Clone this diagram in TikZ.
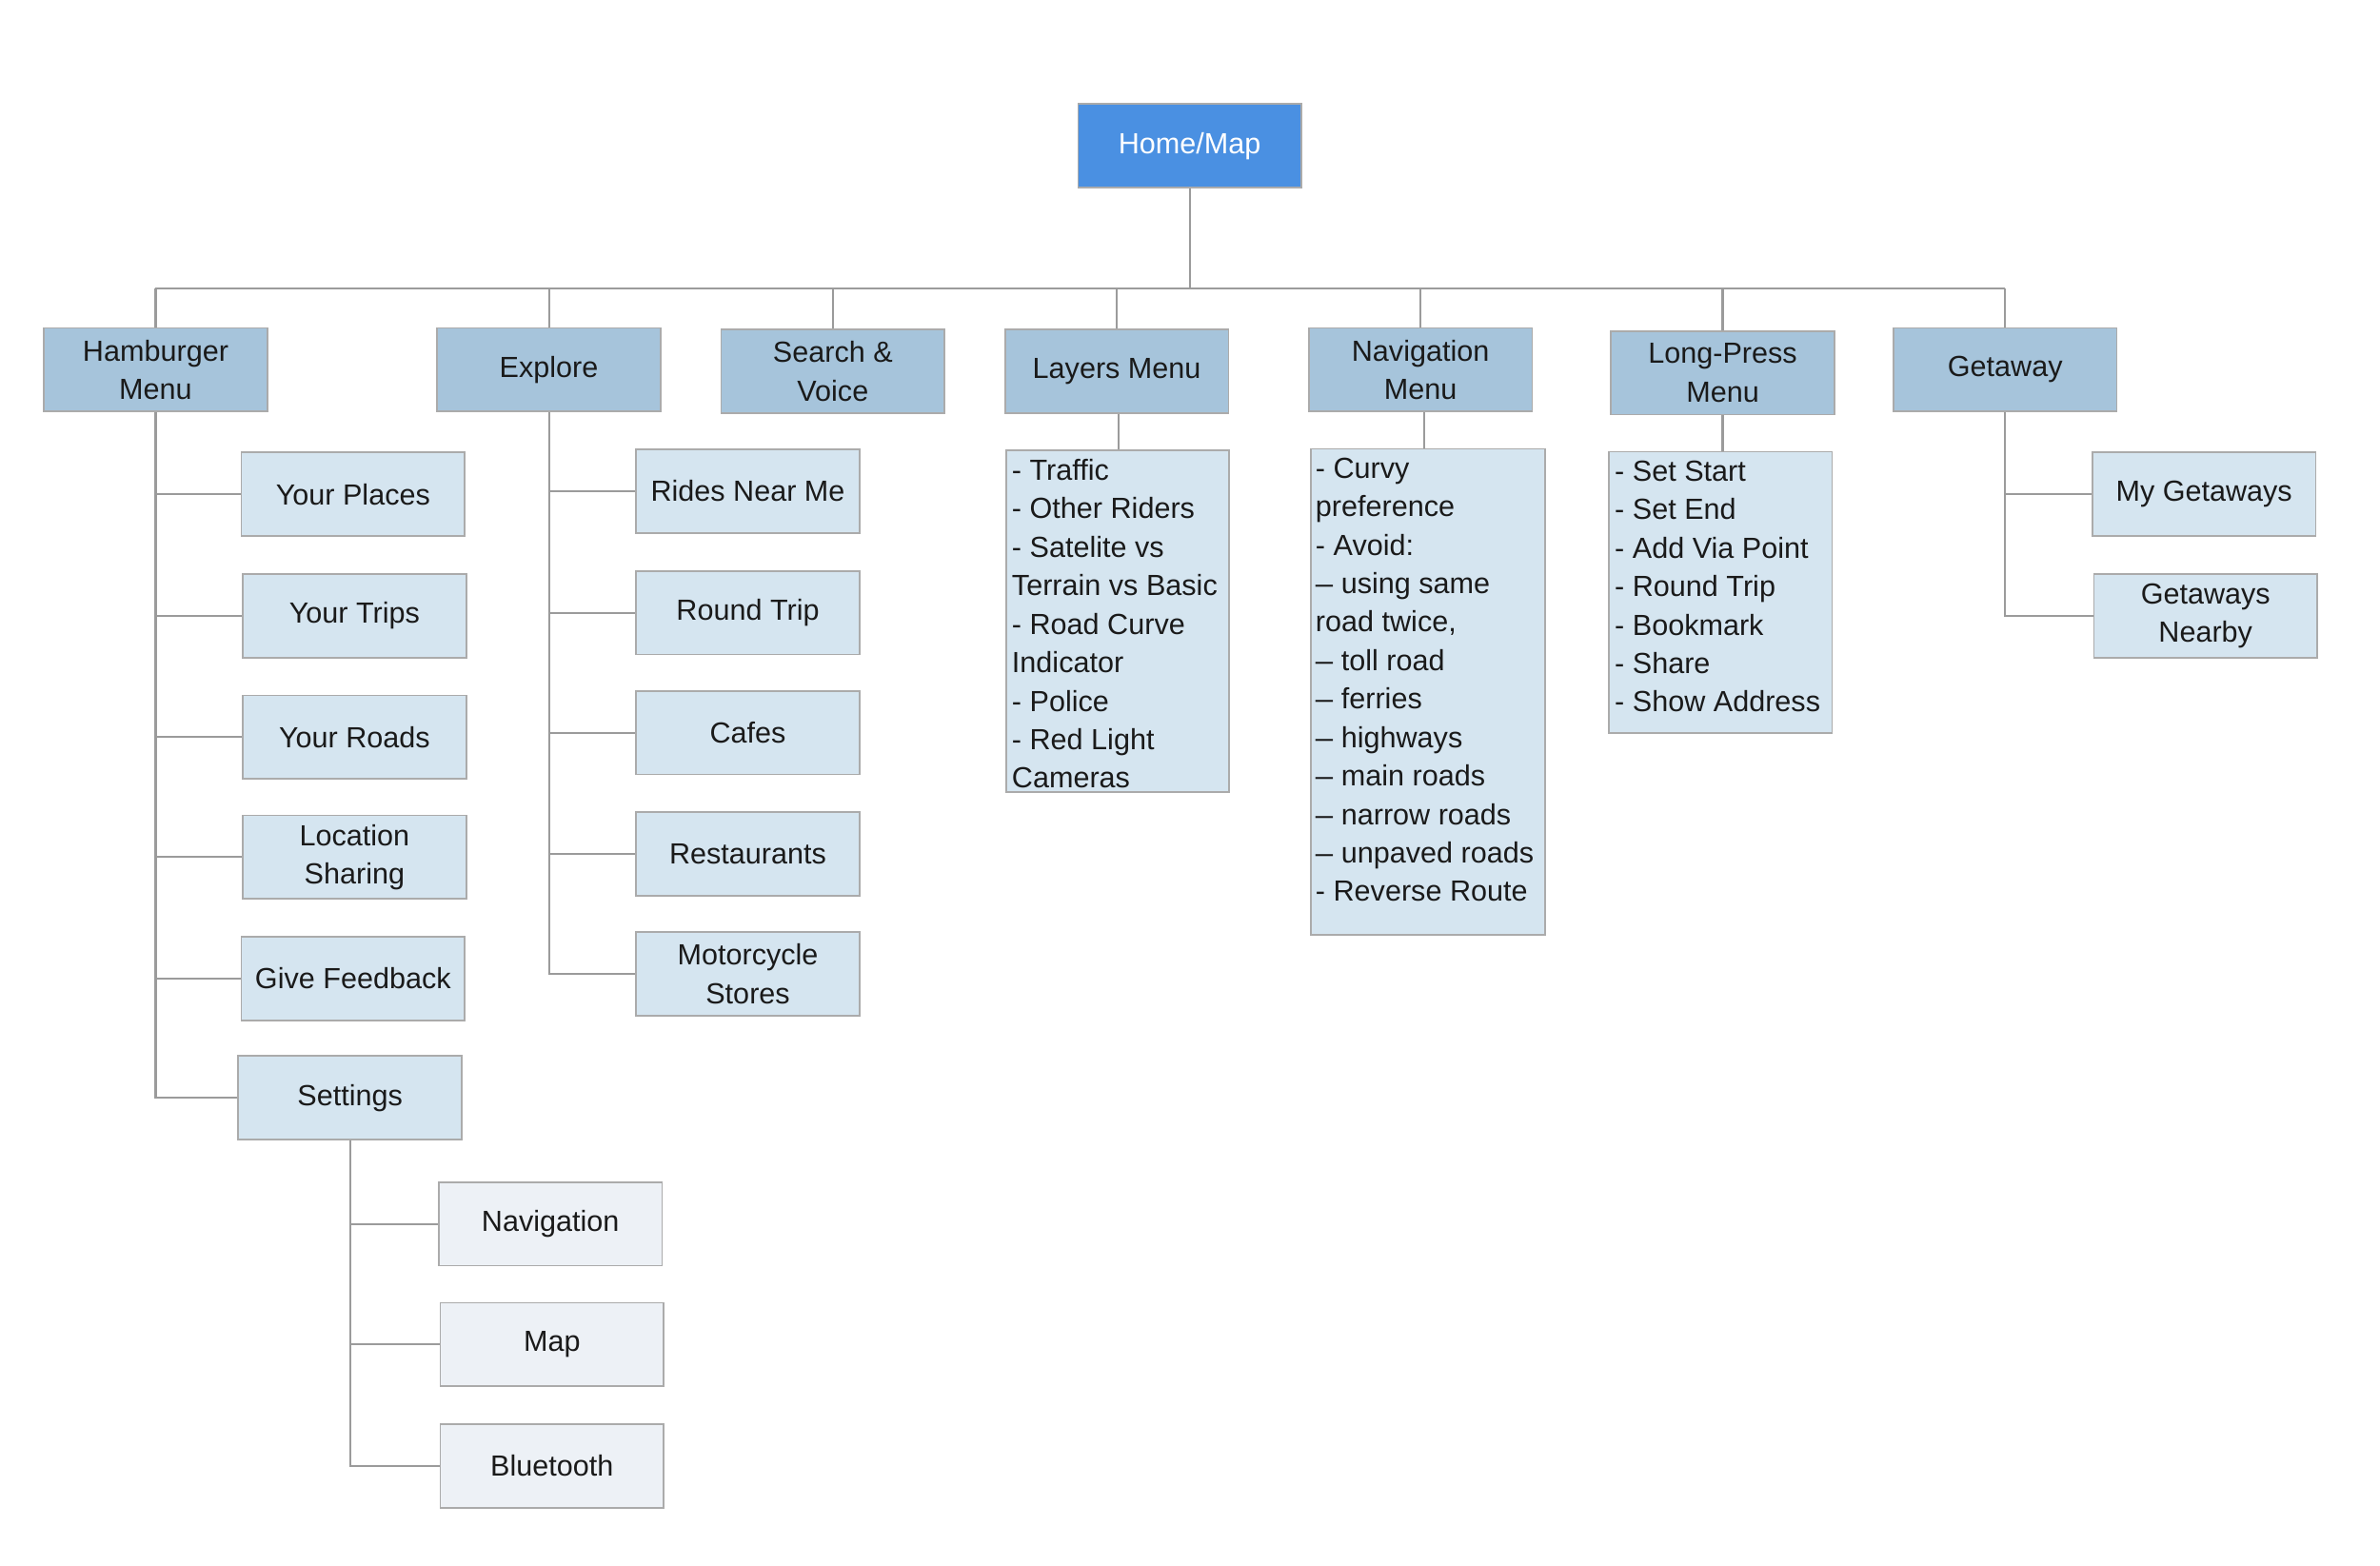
\documentclass[tikz,border=0pt]{standalone}
\usepackage{fontspec}
\setmainfont{Liberation Sans}
\definecolor{homeblue}{HTML}{4A90E2}
\definecolor{lvlone}{HTML}{A6C4DB}
\definecolor{lvltwo}{HTML}{D5E5F0}
\definecolor{lvlthree}{HTML}{EDF1F6}
\definecolor{edgegrey}{HTML}{ABABAB}
\definecolor{linegrey}{HTML}{9B9B9B}
\definecolor{txt}{HTML}{1A1A1A}
\newcommand\shortdash{\scalebox{0.6}[1]{—}}
\begin{document}
\begin{tikzpicture}[x=0.01595cm,y=-0.01595cm,
  every node/.style={font={\fontsize{8.7}{11.5}\selectfont}, text=txt},
  basebox/.style={draw=edgegrey, line width=0.5pt, rectangle, inner sep=0pt,
    minimum width=2.345cm, minimum height=0.877cm, align=center},
  homebox/.style={basebox, fill=homeblue, text=white},
  onebox/.style={basebox, fill=lvlone},
  twobox/.style={basebox, fill=lvltwo},
  threebox/.style={basebox, fill=lvlthree},
  listbox/.style={draw=edgegrey, line width=0.5pt, rectangle, inner sep=0pt, fill=lvltwo, anchor=north west},
  listtext/.style={anchor=north west, inner sep=0pt, align=left},
  conn/.style={draw=linegrey, line width=0.6pt}]
\useasboundingbox (0,0) rectangle (1567.4,1031.3);

% root
\node[homebox] (home) at (783.5,96) {Home/Map};
\coordinate (bus) at (783.5,190);

% level one
\node[onebox] (hm) at (102.5,243.5) {Hamburger\\Menu};
\node[onebox] (ex) at (361.5,243.5) {Explore};
\node[onebox] (sv) at (548.5,244.5) {Search \&\\Voice};
\node[onebox] (lm) at (735.5,244.5) {Layers Menu};
\node[onebox] (nm) at (935.5,243.5) {Navigation\\Menu};
\node[onebox] (lp) at (1134.5,245.5) {Long-Press\\Menu};
\node[onebox] (ga) at (1320.5,243.5) {Getaway};

% hamburger children
\node[twobox] (yp) at (232.5,325.5) {Your Places};
\node[twobox] (yt) at (233.5,405.5) {Your Trips};
\node[twobox] (yr) at (233.5,485.5) {Your Roads};
\node[twobox] (ls) at (233.5,564.5) {Location\\Sharing};
\node[twobox] (gf) at (232.5,644.5) {Give Feedback};
\node[twobox] (st) at (230.5,723) {Settings};

% settings children
\node[threebox] (sn) at (362.5,806) {Navigation};
\node[threebox] (sm) at (363.5,885.5) {Map};
\node[threebox] (sb) at (363.5,965.5) {Bluetooth};

% explore children
\node[twobox] (rn) at (492.5,323.5) {Rides Near Me};
\node[twobox] (rt) at (492.5,403.5) {Round Trip};
\node[twobox] (cf) at (492.5,482.5) {Cafes};
\node[twobox] (rs) at (492.5,562.5) {Restaurants};
\node[twobox] (ms) at (492.5,641.5) {Motorcycle\\Stores};

% getaway children
\node[twobox] (mg) at (1451.5,325.5) {My Getaways};
\node[twobox] (gn) at (1452.5,405.5) {Getaways\\Nearby};

% list boxes
\node[listbox, minimum width=2.345cm, minimum height=3.589cm] (ll) at (662,296) {};
\node[listtext] (llt) at (666,302) {- Traffic\\- Other Riders\\- Satelite vs\\Terrain vs Basic\\- Road Curve\\Indicator\\- Police\\- Red Light\\Cameras};

\node[listbox, minimum width=2.456cm, minimum height=5.104cm] (nl) at (863,295) {};
\node[listtext] (nlt) at (866,301) {- Curvy\\preference\\- Avoid:\\\shortdash{} using same\\road twice,\\\shortdash{} toll road\\\shortdash{} ferries\\\shortdash{} highways\\\shortdash{} main roads\\\shortdash{} narrow roads\\\shortdash{} unpaved roads\\- Reverse Route};

\node[listbox, minimum width=2.345cm, minimum height=2.951cm] (pl) at (1059,297) {};
\node[listtext] (plt) at (1063,303) {- Set Start\\- Set End\\- Add Via Point\\- Round Trip\\- Bookmark\\- Share\\- Show Address};

% connectors: root to bus
\draw[conn] (home.south) -- (home.south |- bus);
\draw[conn] (hm.north |- bus) -- (ga.north |- bus);
\foreach \n in {hm,ex,sv,lm,nm,lp,ga}
  \draw[conn] (\n.north) -- (\n.north |- bus);

% hamburger branch
\foreach \c in {yp,yt,yr,ls,gf,st}
  \draw[conn] (hm.south) |- (\c.west);
% settings branch
\foreach \c in {sn,sm,sb}
  \draw[conn] (st.south) |- (\c.west);
% explore branch
\foreach \c in {rn,rt,cf,rs,ms}
  \draw[conn] (ex.south) |- (\c.west);
% getaway branch
\foreach \c in {mg,gn}
  \draw[conn] (ga.south) |- (\c.west);

% menus to lists
\draw[conn] ([xshift=0.02cm]lm.south) -- ([xshift=0.02cm]lm.south |- ll.north);
\draw[conn] ([xshift=0.04cm]nm.south) -- ([xshift=0.04cm]nm.south |- nl.north);
\draw[conn] (lp.south) -- (lp.south |- pl.north);
\end{tikzpicture}
\end{document}
